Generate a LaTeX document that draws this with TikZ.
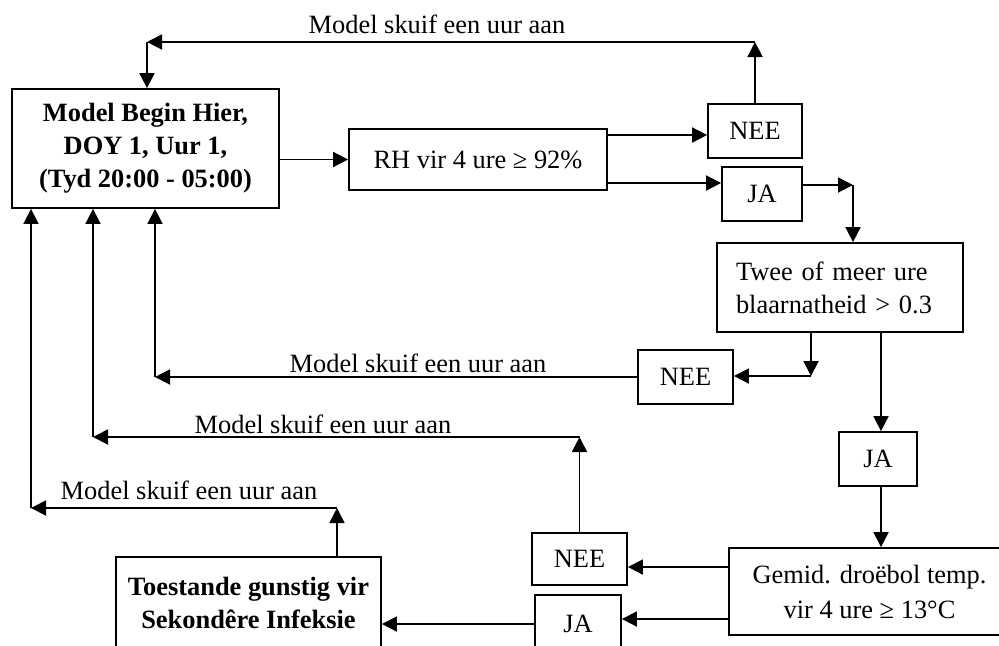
\documentclass[tikz,border=0pt]{standalone}
\usepackage{fontspec}
\setmainfont{Liberation Serif}
\usetikzlibrary{arrows.meta,calc}
\begin{document}
\begin{tikzpicture}[x=0.5pt,y=-0.5pt,
  txt/.style={font=\fontsize{13.2}{16.5}\selectfont},
  box/.style={draw,line width=0.9pt,inner sep=0pt,align=center,txt},
  arr/.style={line width=0.9pt,-{Triangle[length=7.5pt,width=7.5pt]}},
  lbl/.style={txt,inner sep=0pt,anchor=base}]
\useasboundingbox (0,0) rectangle (999,645);
\clip (0,0) rectangle (999,645);
\fill[white] (0,0) rectangle (999,645);
% boxes
\node[box,minimum width=133.5pt,minimum height=59.5pt,font=\bfseries\fontsize{13.2}{16.5}\selectfont] (main) at (145.5,148.5) {Model Begin Hier,\\DOY 1, Uur 1,\\(Tyd 20:00 - 05:00)};
\node[box,minimum width=129pt,minimum height=30.5pt] (rh) at (478,159.5) {RH vir 4 ure ≥ 92\%};
\node[box,minimum width=47pt,minimum height=27pt] (nee1) at (755,131) {NEE};
\node[box,minimum width=40pt,minimum height=27pt] (ja1) at (762,194) {JA};
\node[box,align=left,text width=104pt,inner xsep=9.5pt,minimum height=44.5pt] (twee) at (840,287.5) {Twee of meer ure\\blaarnatheid > 0.3};
\node[box,minimum width=47.5pt,minimum height=27pt] (nee2) at (685.5,377) {NEE};
\node[box,minimum width=39pt,minimum height=27pt] (ja2) at (878,459) {JA};
\node[box,minimum width=140.5pt,minimum height=43.5pt,font=\fontsize{13.2}{17.5}\selectfont] (gemid) at (869.5,591.5) {Gemid. droëbol temp.\\vir 4 ure ≥ 13°C};
\node[box,minimum width=47.5pt,minimum height=26pt] (nee3) at (579.5,559) {NEE};
\node[box,minimum width=43pt,minimum height=29pt] (ja3) at (578,624) {JA};
\node[box,minimum width=132.5pt,minimum height=45.5pt,font=\bfseries\fontsize{13.2}{16.5}\selectfont] (toest) at (248.5,602.5) {Toestande gunstig vir\\Sekondêre Infeksie};
% labels
\node[lbl] (l1) at (437,33) {Model skuif een uur aan};
\node[lbl] (l2) at (418,372) {Model skuif een uur aan};
\node[lbl] (l3) at (323,433) {Model skuif een uur aan};
\node[lbl] (l4) at (189,499) {Model skuif een uur aan};
% turning points
\coordinate (topL) at (147,42);
\coordinate (k1) at (853,185);
\coordinate (k3) at (811,376);
\coordinate (k4) at (155,377);
\coordinate (k5) at (93,437);
\coordinate (k6) at (31,508);
\coordinate (k7) at (337,508);
% connectors
\draw[arr] (rh.west -| main.east) -- (rh.west);
\draw[arr] ($(rh.east)+(0,-24.5)$) coordinate (t1) -- (t1 -| nee1.west);
\draw[arr] ($(rh.east)+(0,23.5)$) coordinate (t2) -- (t2 -| ja1.west);
\draw[arr] (ja1.east |- k1) -- (k1);
\draw[arr] (k1) -- (k1 |- twee.north);
\draw[arr] (nee1.north) -- (nee1.north |- topL);
\draw[arr] (nee1.north |- topL) -- (topL);
\draw[arr] (topL) -- (topL |- main.north);
\draw[arr] (k3 |- twee.south) -- (k3);
\draw[arr] (k3) -- (k3 -| nee2.east);
\draw[arr] (nee2.west |- k4) -- (k4);
\draw[arr] (k4) -- (k4 |- main.south);
\draw[arr] (twee.south -| 881,0) -- (ja2.north -| 881,0);
\draw[arr] (ja2.south -| 881,0) -- (gemid.north -| 881,0);
\draw[arr] ($(gemid.west)+(0,-24.5)$) coordinate (t5) -- (t5 -| nee3.east);
\draw[arr] ($(gemid.west)+(0,27.5)$) coordinate (t6) -- (t6 -| ja3.east);
\draw[arr] (nee3.north) -- (nee3.north |- k5);
\draw[arr] (nee3.north |- k5) -- (k5);
\draw[arr] (k5) -- (k5 |- main.south);
\draw[arr] (ja3.west) -- (ja3.west -| toest.east);
\draw[arr] (k7 |- toest.north) -- (k7);
\draw[arr] (k7) -- (k6);
\draw[arr] (k6) -- (k6 |- main.south);
\end{tikzpicture}
\end{document}
